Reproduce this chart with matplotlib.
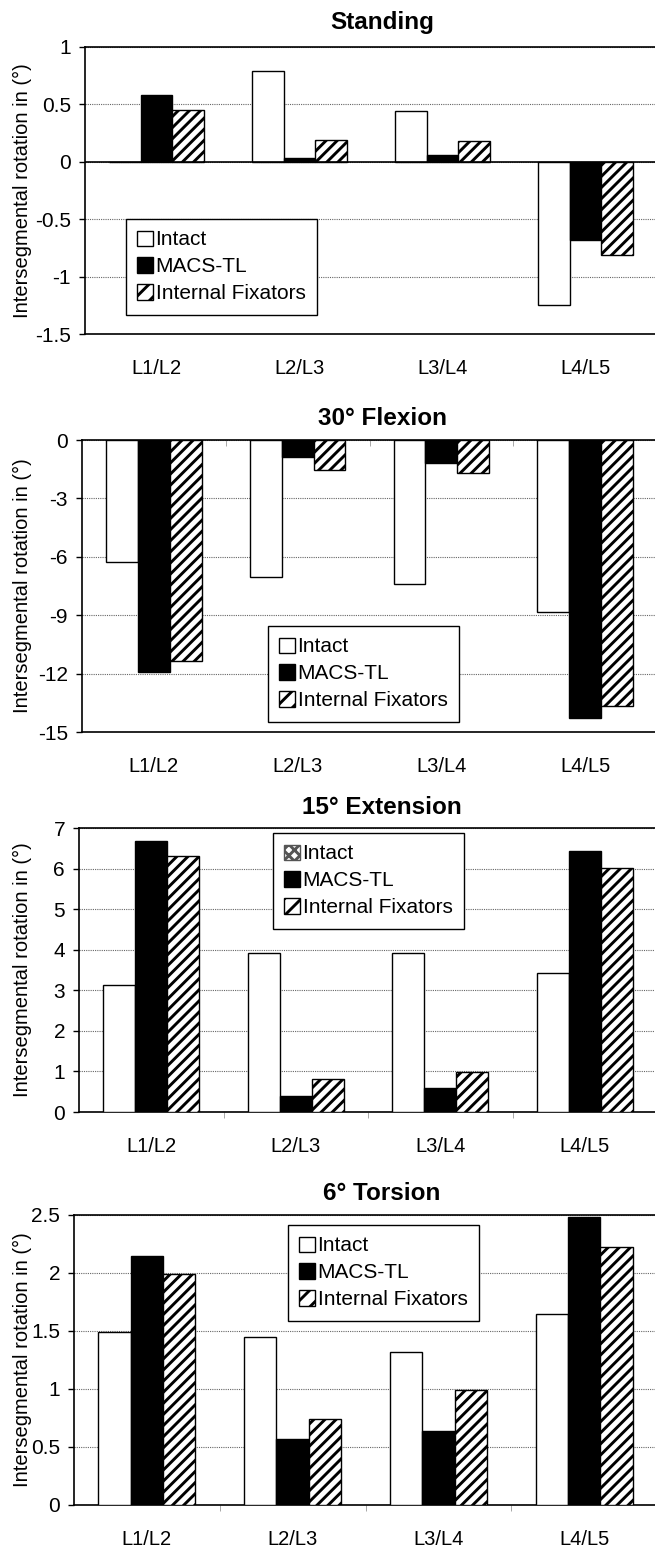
import numpy as np
import matplotlib
matplotlib.use("Agg")
import matplotlib.pyplot as plt
from matplotlib.patches import Patch
from matplotlib.ticker import FormatStrFormatter

plt.rcParams['font.family'] = ['Liberation Sans', 'DejaVu Sans']
plt.rcParams['axes.unicode_minus'] = False
plt.rcParams['hatch.linewidth'] = 2.1

# data
levels = ["L1/L2", "L2/L3", "L3/L4", "L4/L5"]
series = ["Intact", "MACS-TL", "Internal Fixators"]

standing_intact = [0.0, 0.79, 0.44, -1.25]
standing_macs = [0.58, 0.03, 0.06, -0.68]
standing_fix = [0.45, 0.19, 0.18, -0.81]

flexion_intact = [-6.25, -7.05, -7.4, -8.84]
flexion_macs = [-11.9, -0.89, -1.18, -14.26]
flexion_fix = [-11.37, -1.54, -1.71, -13.66]

extension_intact = [3.14, 3.91, 3.93, 3.42]
extension_macs = [6.69, 0.39, 0.58, 6.43]
extension_fix = [6.31, 0.81, 0.99, 6.02]

torsion_intact = [1.49, 1.45, 1.32, 1.65]
torsion_macs = [2.15, 0.57, 0.64, 2.48]
torsion_fix = [1.99, 0.74, 0.99, 2.22]

titles = ["Standing", "30° Flexion", "15° Extension", "6° Torsion"]
ylims = [(-1.5, 1), (-15, 0), (0, 7), (0, 2.5)]
ysteps = [0.5, 3, 1, 0.5]

W, H = 655, 1547
fig = plt.figure(figsize=(W / 100, H / 100), dpi=100)

# pixel layout of each panel: left, top, bottom, title y, legend x, legend y
layout = [
    (85, 47, 334, 22, 126, 219),
    (82, 440, 732, 419, 268, 626),
    (79, 828, 1112, 807, 273, 833),
    (74, 1215, 1505, 1193, 288, 1225),
]

data = [
    (standing_intact, standing_macs, standing_fix),
    (flexion_intact, flexion_macs, flexion_fix),
    (extension_intact, extension_macs, extension_fix),
    (torsion_intact, torsion_macs, torsion_fix),
]

x = np.arange(len(levels))
w = 0.222

for k in range(4):
    left, top, bottom, ty, lx, ly = layout[k]
    ax = fig.add_axes([left / W, 1 - bottom / H, (657 - left) / W, (bottom - top) / H])
    intact, macs, fix = data[k]

    ax.bar(x - w, intact, w, color="white", edgecolor="black", linewidth=1, zorder=3)
    ax.bar(x, macs, w, color="black", edgecolor="black", linewidth=1, zorder=3)
    ax.bar(x + w, fix, w, color="white", edgecolor="black", hatch="///", linewidth=1, zorder=3)

    lo, hi = ylims[k]
    ax.set_ylim(lo, hi)
    ax.set_xlim(-0.5, 3.5)
    ax.set_yticks(np.arange(lo, hi + ysteps[k] / 2, ysteps[k]))
    ax.yaxis.set_major_formatter(FormatStrFormatter('%g'))
    ax.grid(axis="y", color="#666666", linestyle=(0, (1, 1)), linewidth=0.8, zorder=0)
    if k == 0:
        ax.axhline(0, color="black", linewidth=1.2, zorder=4)

    ax.set_xticks(x)
    ax.set_xticklabels(levels)
    ax.tick_params(axis="x", which="major", length=0, pad=18, labelsize=14.5)
    ax.tick_params(axis="y", which="major", length=4, width=1, pad=6, labelsize=15)
    ax.set_xticks([0.5, 1.5, 2.5], minor=True)
    if k == 1:
        ax.tick_params(axis="x", which="minor", top=True, bottom=False,
                       direction="in", length=4, color="#999999")
    elif k == 0:
        ax.tick_params(axis="x", which="minor", length=0)
    else:
        ax.tick_params(axis="x", which="minor", length=4, color="#999999")

    for s in ax.spines.values():
        s.set_linewidth(1.2)

    fig.text(382 / W, 1 - ty / H, titles[k], ha="center", va="center",
             fontsize=17.5, fontweight="bold")
    fig.text(22 / W, 1 - (top + bottom) / 2 / H, "Intersegmental rotation in (°)",
             rotation=90, ha="center", va="center", fontsize=14.5)

    if k == 2:
        intact_handle = Patch(facecolor="white", edgecolor="#555555", hatch="xxx", linewidth=1)
    else:
        intact_handle = Patch(facecolor="white", edgecolor="black", linewidth=1)
    handles = [
        intact_handle,
        Patch(facecolor="black", edgecolor="black", linewidth=1),
        Patch(facecolor="white", edgecolor="black", hatch="//", linewidth=1),
    ]
    leg = ax.legend(handles, series, loc="upper left",
                    bbox_to_anchor=(lx / W, 1 - ly / H), bbox_transform=fig.transFigure,
                    borderaxespad=0, fontsize=15, fancybox=False, framealpha=1,
                    edgecolor="black", handlelength=0.75, handleheight=0.75,
                    handletextpad=0.12, labelspacing=0.38, borderpad=0.55)
    leg.get_frame().set_linewidth(1)
    leg.set_zorder(5)

fig.savefig("out.png", dpi=100)
